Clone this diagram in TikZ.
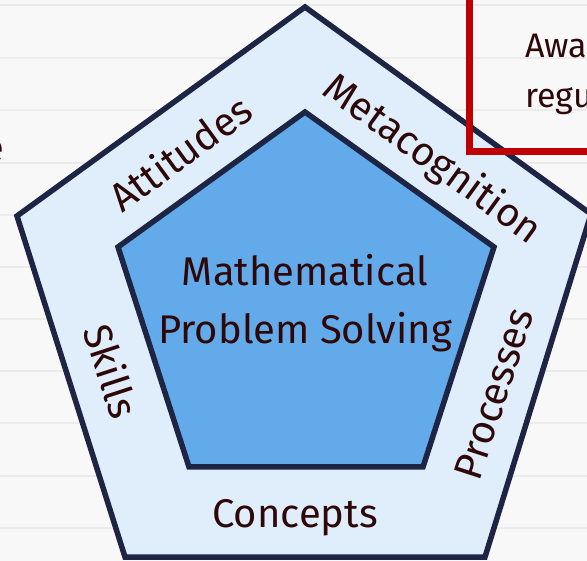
\documentclass[tikz,border=0pt]{standalone}
\usepackage{fontspec}
\setmainfont{Fira Sans}
\definecolor{paper}{HTML}{F8F8F8}
\definecolor{rule}{HTML}{EBEBEB}
\definecolor{ink}{HTML}{2E0808}
\definecolor{edge}{HTML}{1E2444}
\definecolor{ringfill}{HTML}{E0EEFB}
\definecolor{corefill}{HTML}{62AAEA}
\definecolor{alert}{HTML}{C00000}
\tikzset{
  ring/.style={draw=edge, line width=5.5pt, line join=miter, fill=ringfill},
  core/.style={draw=edge, line width=5.5pt, line join=miter, fill=corefill},
  label/.style={text=ink, font=\fontsize{40}{44}\selectfont, inner sep=0pt},
  title/.style={text=ink, font=\fontsize{40}{58}\selectfont, align=center, inner sep=0pt},
  note/.style={text=ink, font=\fontsize{34}{50}\selectfont, inner sep=0pt},
}
\begin{document}
\begin{tikzpicture}[x=1pt,y=-1pt]
  % page frame
  \clip (0,0) rectangle (587,561);
  \fill[paper] (0,0) rectangle (587,561);
  % ruled lines of the page
  \foreach \y in {5,58,110,163,215,267,319,371,423,476,528}
    \draw[rule, line width=1.8pt] (0,\y) -- (587,\y);

  % text of the neighbouring note, cut by the page edge
  \node[note, anchor=base east, font=\fontsize{40}{44}\selectfont] (leftword) at (5,162) {e};

  % outer pentagon
  \coordinate (o1) at (305,7);
  \coordinate (o2) at (591,214);
  \coordinate (o3) at (485,557);
  \coordinate (o4) at (125,557);
  \coordinate (o5) at (17,216);
  \draw[ring] (o1) -- (o2) -- (o3) -- (o4) -- (o5) -- cycle;

  % inner pentagon
  \coordinate (i1) at (305,112);
  \coordinate (i2) at (494,247);
  \coordinate (i3) at (423,467);
  \coordinate (i4) at (189,467);
  \coordinate (i5) at (118,247);
  \draw[core] (i1) -- (i2) -- (i3) -- (i4) -- (i5) -- cycle;

  % centre text (base anchor sits on the last line)
  \node[title, anchor=base] (core) at (305,344) {Mathematical\\Problem Solving};

  % ring labels
  \node[label, rotate=36]  (attitudes) at (180,153) {Attitudes};
  \node[label, rotate=-36] (meta)      at (432,160) {Metacognition};
  \node[label, rotate=-72] (skills)    at (112,371) {Skills};
  \node[label, rotate=72]  (processes) at (494,394) {Processes};
  \node[label, anchor=base] (concepts) at (295,527) {Concepts};

  % callout box in the corner
  \node[note, anchor=base west] (aw) at (525,58) {Awa};
  \node[note, anchor=base west] (re) at (525,108) {regu};
  \draw[alert, line width=7pt] (469,-20) -- (469,152) -- (620,152);
\end{tikzpicture}
\end{document}
